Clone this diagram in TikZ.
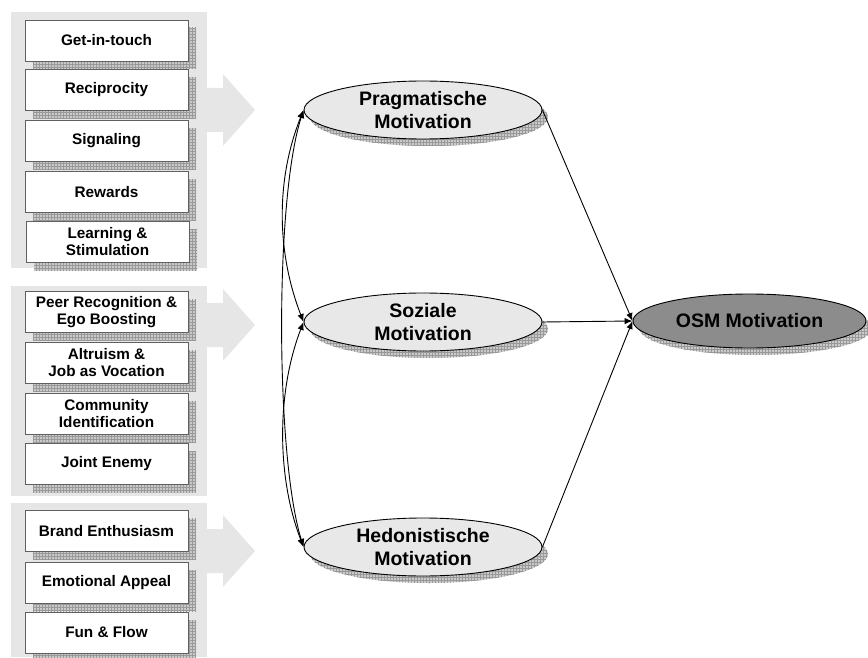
\documentclass[tikz,border=0pt]{standalone}
\usepackage{fontspec}
\setmainfont{Liberation Sans}
\usetikzlibrary{shapes.geometric,patterns,arrows.meta}
\definecolor{panel}{HTML}{E6E6E6}
\definecolor{ellfill}{HTML}{E8E8E8}
\definecolor{osmfill}{HTML}{8C8C8C}
\definecolor{shadowbase}{HTML}{CACACA}
\definecolor{shadowgrid}{HTML}{999999}
\tikzset{
  boxshadow/.style={
    preaction={fill=shadowbase, transform canvas={shift={(8pt,-8pt)}}},
    preaction={pattern=grid, pattern color=shadowgrid, transform canvas={shift={(8pt,-8pt)}}}},
  ellshadow/.style={
    preaction={fill=shadowbase, transform canvas={shift={(6pt,-7pt)}}},
    preaction={pattern=grid, pattern color=shadowgrid, transform canvas={shift={(6pt,-7pt)}}}},
  factor/.style={draw=gray!75!black, line width=0.7pt, fill=white,
    minimum width=163pt, minimum height=41pt, inner sep=0pt, align=center,
    font=\bfseries\fontsize{15.3}{17}\selectfont, boxshadow},
  motive/.style={ellipse, draw=black, line width=0.9pt, fill=ellfill,
    minimum width=238pt, minimum height=58pt, inner sep=0pt, align=center,
    font=\bfseries\fontsize{19.5}{22.5}\selectfont, ellshadow},
  outcome/.style={motive, fill=osmfill, minimum width=233pt, minimum height=54pt},
  conn/.style={draw=black, line width=0.9pt, -{Latex[length=8pt,width=6.5pt]}},
  corr/.style={draw=black, line width=0.9pt,
    {Latex[length=8pt,width=6.5pt]}-{Latex[length=8pt,width=6.5pt]}},
  blockarrow/.style={fill=panel}
}
\begin{document}
\begin{tikzpicture}[x=1pt,y=1pt]
\useasboundingbox (0,0) rectangle (868,-658);

% grey panels behind the three factor groups
\fill[panel] (11,-12) rectangle (207,-268);
\fill[panel] (11,-286) rectangle (207,-496);
\fill[panel] (11,-503) rectangle (207,-657);

% block arrows pointing to the motivation ellipses
\foreach \cy in {110,325,551}{
  \fill[blockarrow] (207,-\cy+22) -- (223,-\cy+22) -- (223,-\cy+36) -- (255,-\cy)
    -- (223,-\cy-36) -- (223,-\cy-22) -- (207,-\cy-22) -- cycle;
}

% pragmatic factors
\node[factor] (f1) at (106.5,-40.5) {Get-in-touch};
\node[factor] (f2) at (106.5,-90) {Reciprocity};
\node[factor] (f3) at (106.5,-141) {Signaling};
\node[factor] (f4) at (106.5,-192) {Rewards};
\node[factor] (f5) at (107.5,-242) {Learning \&\\Stimulation};

% social factors
\node[factor] (f6) at (106.5,-312) {Peer Recognition \&\\Ego Boosting};
\node[factor] (f7) at (106.5,-363) {Altruism \&\\Job as Vocation};
\node[factor] (f8) at (106.5,-413.5) {Community\\Identification};
\node[factor] (f9) at (106.5,-464) {Joint Enemy};

% hedonic factors
\node[factor] (f10) at (106.5,-531) {Brand Enthusiasm};
\node[factor] (f11) at (106.5,-582.5) {Emotional Appeal};
\node[factor] (f12) at (106.5,-632.5) {Fun \& Flow};

% latent motivation constructs
\node[motive] (P) at (423,-110) {Pragmatische\\Motivation};
\node[motive] (S) at (423,-322) {Soziale\\Motivation};
\node[motive] (H) at (423,-547) {Hedonistische\\Motivation};
\node[outcome] (O) at (749.5,-321) {OSM Motivation};

% correlations between the constructs
\draw[corr] (P.west) .. controls +(-29,-90) and +(-28,90) .. (H.west);
\draw[corr] (P.west) .. controls +(-28,-70) and +(-27,70) .. (S.west);
\draw[corr] (S.west) .. controls +(-27,-70) and +(-27,70) .. (H.west);

% paths to the outcome
\draw[conn] (P.east) -- (O.west);
\draw[conn] (S.east) -- (O.west);
\draw[conn] (H.east) -- (O.west);
\end{tikzpicture}
\end{document}
